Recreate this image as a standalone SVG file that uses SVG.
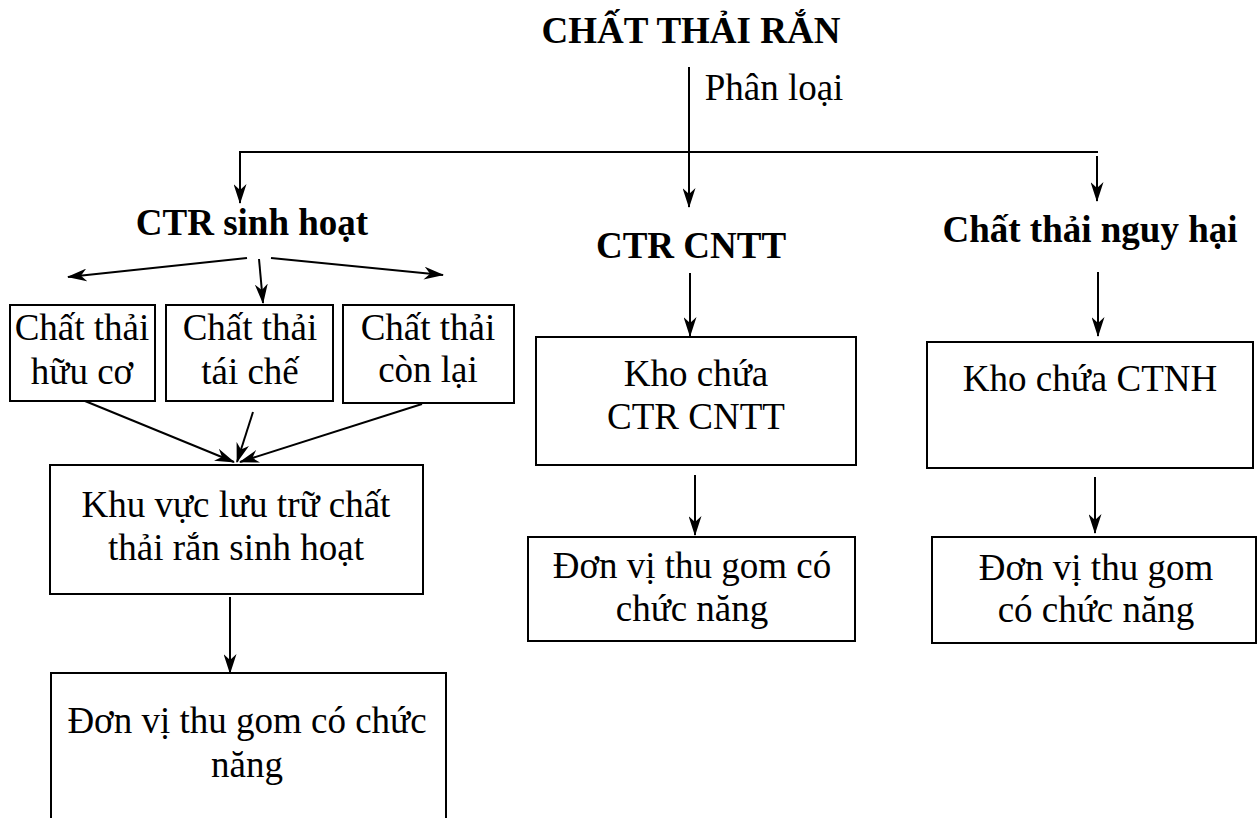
<svg xmlns="http://www.w3.org/2000/svg" width="1258" height="818" viewBox="0 0 1258 818">
<style>
text{font-family:"Liberation Serif","Times New Roman",serif;fill:#000;text-anchor:middle}
.b{font-weight:bold;font-size:37px}
.r{font-size:37px}
.box{fill:#fff;stroke:#000;stroke-width:2}
.c line{stroke:#000;stroke-width:2}
</style>
<defs>
<marker id="ah" markerUnits="userSpaceOnUse" viewBox="0 0 20 13" refX="19" refY="6.5" markerWidth="20" markerHeight="13" orient="auto">
<path d="M0,0 L20,6.5 L0,13 L6,6.5 z" fill="#000"/>
</marker>
</defs>
<rect width="1258" height="818" fill="#fff"/>
<g id="connectors" class="c">
<line x1="689" y1="67" x2="689" y2="207" marker-end="url(#ah)"/>
<line x1="239" y1="152" x2="1098" y2="152"/>
<line x1="240" y1="151" x2="240" y2="203" marker-end="url(#ah)"/>
<line x1="1097" y1="156" x2="1097" y2="201" marker-end="url(#ah)"/>
<line x1="247" y1="258" x2="68" y2="277" marker-end="url(#ah)"/>
<line x1="259" y1="259" x2="263" y2="303" marker-end="url(#ah)"/>
<line x1="271" y1="258" x2="443" y2="275" marker-end="url(#ah)"/>
<line x1="85" y1="401" x2="234" y2="462" marker-end="url(#ah)"/>
<line x1="253" y1="412" x2="237" y2="462" marker-end="url(#ah)"/>
<line x1="422" y1="404" x2="240" y2="462" marker-end="url(#ah)"/>
<line x1="230" y1="597" x2="230" y2="673" marker-end="url(#ah)"/>
<line x1="690" y1="273" x2="690" y2="336" marker-end="url(#ah)"/>
<line x1="695" y1="475" x2="695" y2="535" marker-end="url(#ah)"/>
<line x1="1098" y1="272" x2="1098" y2="336" marker-end="url(#ah)"/>
<line x1="1095" y1="477" x2="1095" y2="533" marker-end="url(#ah)"/>
</g>
<g id="title"><text class="b" x="691" y="43">CHẤT THẢI RẮN</text></g>
<g id="phanloai"><text class="r" x="774" y="100">Phân loại</text></g>
<g id="ctr-sinh-hoat"><text class="b" x="252" y="235">CTR sinh hoạt</text></g>
<g id="ctr-cntt"><text class="b" x="691" y="258">CTR CNTT</text></g>
<g id="ctnh"><text class="b" x="1090" y="242">Chất thải nguy hại</text></g>
<g id="huu-co"><rect class="box" x="10" y="305" width="145" height="96"/><text class="r" x="82" y="340">Chất thải</text><text class="r" x="82" y="384">hữu cơ</text></g>
<g id="tai-che"><rect class="box" x="166" y="305" width="167" height="96"/><text class="r" x="250" y="340">Chất thải</text><text class="r" x="250" y="384">tái chế</text></g>
<g id="con-lai"><rect class="box" x="343" y="305" width="171" height="98"/><text class="r" x="428" y="340">Chất thải</text><text class="r" x="428" y="382">còn lại</text></g>
<g id="khu-vuc"><rect class="box" x="50" y="465" width="373" height="129"/><text class="r" x="236" y="517">Khu vực lưu trữ chất</text><text class="r" x="236" y="560">thải rắn sinh hoạt</text></g>
<g id="don-vi-1"><rect class="box" x="51" y="673" width="395" height="160"/><text class="r" x="247" y="733">Đơn vị thu gom có chức</text><text class="r" x="247" y="777">năng</text></g>
<g id="kho-cntt"><rect class="box" x="536" y="337" width="320" height="128"/><text class="r" x="696" y="386">Kho chứa</text><text class="r" x="696" y="429">CTR CNTT</text></g>
<g id="don-vi-2"><rect class="box" x="528" y="537" width="327" height="104"/><text class="r" x="692" y="578">Đơn vị thu gom có</text><text class="r" x="692" y="621">chức năng</text></g>
<g id="kho-ctnh"><rect class="box" x="927" y="342" width="326" height="126"/><text class="r" x="1090" y="391">Kho chứa CTNH</text></g>
<g id="don-vi-3"><rect class="box" x="932" y="537" width="324" height="106"/><text class="r" x="1096" y="580">Đơn vị thu gom</text><text class="r" x="1096" y="622">có chức năng</text></g>
</svg>
